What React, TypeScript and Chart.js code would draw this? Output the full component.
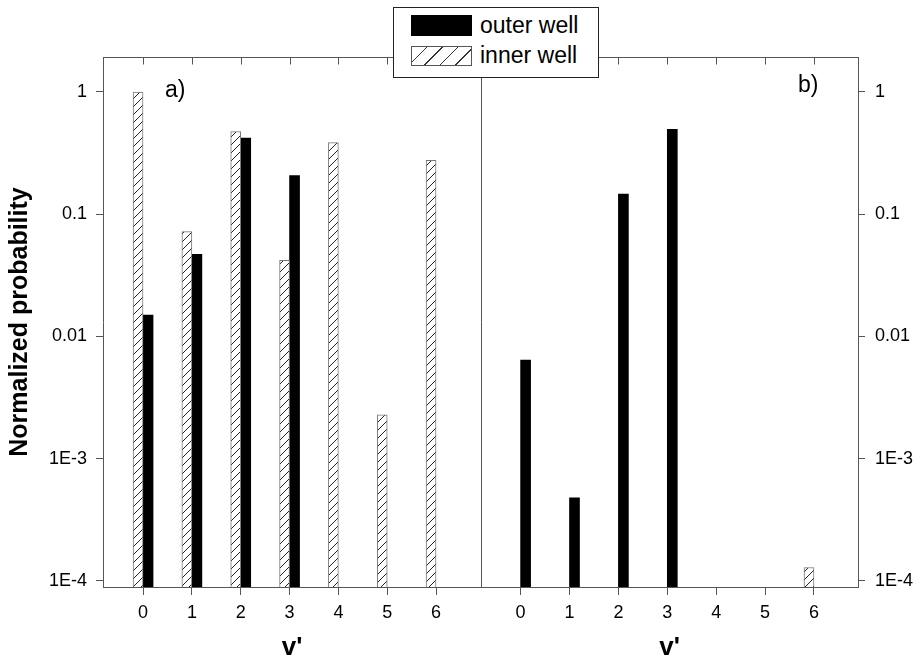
import { useEffect, useRef } from 'react';
import { Chart, registerables } from 'chart.js';

Chart.register(...registerables);

// ---------- data ----------
const categories = [0, 1, 2, 3, 4, 5, 6];
const xTickLabels = ['0', '1', '2', '3', '4', '5', '6'];
const outerWellA = [0.015, 0.047, 0.42, 0.207, null, null, null];
const innerWellA = [1.0, 0.072, 0.474, 0.042, 0.385, 0.00229, 0.276];
const outerWellB = [0.0064, 0.00048, 0.146, 0.495, null, null, null];
const innerWellB = [null, null, null, null, null, null, 0.000129];
const yTickValues = [1e-4, 1e-3, 1e-2, 1e-1, 1];
const yTickLabels = ['1E-4', '1E-3', '0.01', '0.1', '1'];
const seriesNames = ['outer well', 'inner well'];
const panelLabels = ['a)', 'b)'];
const xTitle = "v'";
const yTitle = 'Normalized probability';

const FONT = "'Liberation Sans', Arial, Helvetica, sans-serif";
const AXIS = '#555';
const Y_MIN = 8.93e-5;
const Y_MAX = 1.933;

function makeHatch(): CanvasPattern | string {
  const c = document.createElement('canvas');
  c.width = 8;
  c.height = 8;
  const g = c.getContext('2d');
  if (!g) return '#fff';
  g.fillStyle = '#fff';
  g.fillRect(0, 0, 8, 8);
  g.strokeStyle = '#222';
  g.lineWidth = 1;
  g.beginPath();
  g.moveTo(0, 8);
  g.lineTo(8, 0);
  g.moveTo(-1, 1);
  g.lineTo(1, -1);
  g.moveTo(7, 9);
  g.lineTo(9, 7);
  g.stroke();
  return g.createPattern(c, 'repeat') || '#fff';
}

function framePlugin(isLeft: boolean, label: string, labelX: number, labelY: number) {
  return {
    id: 'frame' + (isLeft ? 'L' : 'R'),
    afterDraw(chart: any) {
      const { ctx, chartArea } = chart;
      const { left, right, top } = chartArea;
      const xs = chart.scales.x;
      ctx.save();
      ctx.strokeStyle = AXIS;
      ctx.lineWidth = 1;
      const t = Math.round(top) + 0.5;
      ctx.beginPath();
      ctx.moveTo(left, t);
      ctx.lineTo(right + 1, t);
      const r = Math.round(right) + 0.5;
      ctx.moveTo(r, top);
      ctx.lineTo(r, chartArea.bottom + 1);
      categories.forEach((c) => {
        const px = Math.round(xs.getPixelForValue(c)) + 0.5;
        ctx.moveTo(px, t);
        ctx.lineTo(px, t + 7);
      });
      ctx.stroke();
      ctx.fillStyle = '#000';
      ctx.font = `23px ${FONT}`;
      ctx.textBaseline = 'alphabetic';
      ctx.textAlign = 'left';
      ctx.fillText(label, labelX, labelY);
      ctx.restore();
    },
  };
}

function buildConfig(isLeft: boolean, inner: (number | null)[], outer: (number | null)[], pattern: any) {
  const xMin = isLeft ? -0.82 : -0.81;
  const xMax = isLeft ? 6.92 : 6.9;
  return {
    type: 'bar',
    data: {
      datasets: [
        {
          label: seriesNames[1],
          data: categories.map((c, i) => ({ x: c, y: inner[i] })),
          backgroundColor: pattern,
          borderColor: '#777',
          borderWidth: 1,
          barThickness: 10,
        },
        {
          label: seriesNames[0],
          data: categories.map((c, i) => ({ x: c, y: outer[i] })),
          backgroundColor: '#000',
          borderColor: '#000',
          borderWidth: 0,
          barThickness: 10,
        },
      ],
    },
    options: {
      responsive: false,
      maintainAspectRatio: false,
      animation: false,
      devicePixelRatio: 1,
      layout: { padding: { top: 57, left: isLeft ? 0 : 9, right: isLeft ? 9 : 0, bottom: 0 } },
      plugins: { legend: { display: false }, tooltip: { enabled: false } },
      scales: {
        x: {
          type: 'linear',
          position: 'bottom',
          offset: false,
          min: xMin,
          max: xMax,
          afterBuildTicks: (s: any) => {
            s.ticks = categories.map((v) => ({ value: v }));
          },
          ticks: {
            autoSkip: false,
            maxRotation: 0,
            color: '#000',
            padding: 7,
            font: { family: FONT, size: 18 },
            callback: (v: any) => {
              const i = categories.indexOf(Number(v));
              return i >= 0 ? xTickLabels[i] : '';
            },
          },
          grid: { offset: false, drawOnChartArea: false, drawTicks: true, tickLength: 8, color: AXIS },
          border: { display: true, color: AXIS },
          title: {
            display: true,
            text: xTitle,
            color: '#000',
            font: { family: FONT, size: 26, weight: 'bold', lineHeight: 0.9 },
            padding: { top: 0, bottom: 0 },
          },
          afterFit: (s: any) => {
            s.height = 73;
          },
        },
        y: {
          type: 'logarithmic',
          position: isLeft ? 'left' : 'right',
          min: Y_MIN,
          max: Y_MAX,
          afterBuildTicks: (s: any) => {
            s.ticks = yTickValues.map((v) => ({ value: v, major: true }));
          },
          ticks: {
            autoSkip: false,
            color: '#000',
            padding: isLeft ? 9 : 10,
            font: { family: FONT, size: 18 },
            callback: (v: any) => {
              const n = Number(v);
              const i = yTickValues.findIndex((t) => Math.abs(Math.log10(t) - Math.log10(n)) < 1e-6);
              return i >= 0 ? yTickLabels[i] : '';
            },
          },
          grid: { drawOnChartArea: false, drawTicks: true, tickLength: 7, color: AXIS },
          border: { display: true, color: AXIS },
          title: {
            display: isLeft,
            text: yTitle,
            color: '#000',
            font: { family: FONT, size: 25, weight: 'bold', lineHeight: 1.2 },
            padding: { top: 5, bottom: 0 },
          },
          afterFit: (s: any) => {
            s.width = isLeft ? 103 : 59;
          },
        },
      },
    },
    plugins: [
      isLeft
        ? framePlugin(true, panelLabels[0], 165, 97)
        : framePlugin(false, panelLabels[1], 798 - 472, 92),
    ],
  };
}

export default function App() {
  const leftRef = useRef<HTMLCanvasElement | null>(null);
  const rightRef = useRef<HTMLCanvasElement | null>(null);

  useEffect(() => {
    const pattern = makeHatch();
    const charts: Chart[] = [];
    if (leftRef.current) {
      charts.push(new Chart(leftRef.current, buildConfig(true, innerWellA, outerWellA, pattern) as any));
    }
    if (rightRef.current) {
      charts.push(new Chart(rightRef.current, buildConfig(false, innerWellB, outerWellB, pattern) as any));
    }
    return () => charts.forEach((c) => c.destroy());
  }, []);

  const textStyle: any = {
    position: 'absolute',
    left: 86,
    fontFamily: FONT,
    fontSize: 23,
    lineHeight: '23px',
    color: '#000',
    whiteSpace: 'nowrap',
  };

  return (
    <div style={{ position: 'fixed', left: 0, top: 0, width: 917, height: 660, background: '#fff', overflow: 'hidden' }}>
      <canvas
        ref={leftRef}
        width={490}
        height={660}
        style={{ position: 'absolute', left: 0, top: 0, width: 490, height: 660 }}
      />
      <canvas
        ref={rightRef}
        width={445}
        height={660}
        style={{ position: 'absolute', left: 472, top: 0, width: 445, height: 660 }}
      />
      <div
        style={{
          position: 'absolute',
          left: 393,
          top: 7,
          width: 206,
          height: 71,
          boxSizing: 'border-box',
          border: '1px solid #222',
          background: '#fff',
          zIndex: 2,
        }}
      >
        <div style={{ position: 'absolute', left: 17, top: 7, width: 61, height: 21, background: '#000' }} />
        <div style={textStyle as any}>
          <span style={{ position: 'relative', top: 6 }}>{seriesNames[0]}</span>
        </div>
        <div
          style={{
            position: 'absolute',
            left: 17,
            top: 38,
            width: 61,
            height: 20,
            boxSizing: 'border-box',
            border: '1px solid #555',
            background: 'repeating-linear-gradient(135deg, #fff 0px, #fff 10px, #333 10px, #333 11px)',
          }}
        />
        <div style={textStyle as any}>
          <span style={{ position: 'relative', top: 36 }}>{seriesNames[1]}</span>
        </div>
      </div>
    </div>
  );
}
